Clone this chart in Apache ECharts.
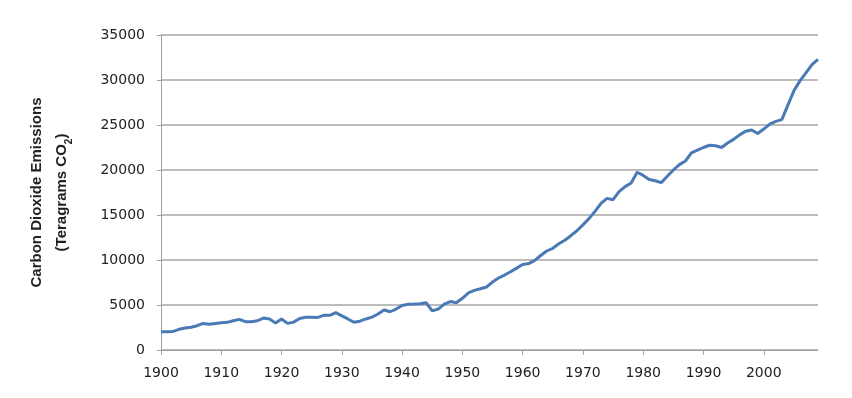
<!DOCTYPE html>
<html>
<head>
<meta charset="utf-8">
<script src="https://cdn.jsdelivr.net/npm/echarts@6/dist/echarts.min.js"></script>
<style>
  html, body { margin: 0; padding: 0; background: #fff; }
  #chart { width: 852px; height: 398px; }
</style>
</head>
<body>
<div id="chart"></div>
<script>
// years 1900..2009, one value per year (Tg CO2)
var years = [];
for (var y = 1900; y <= 2009; y++) years.push(y);

var emissions = [
  2040, 2040, 2060, 2300, 2450, 2520, 2700, 2950, 2850, 2950,
  3040, 3070, 3250, 3400, 3150, 3150, 3250, 3550, 3450, 3000,
  3450, 2960, 3100, 3500, 3630, 3630, 3620, 3850, 3850, 4150,
  3800, 3450, 3080, 3200, 3450, 3650, 4000, 4450, 4250, 4550,
  4950, 5080, 5100, 5150, 5250, 4350, 4550, 5100, 5380, 5260,
  5740, 6350, 6620, 6800, 7000, 7550, 8000, 8330, 8700, 9100,
  9500, 9600, 9950, 10500, 11000, 11300, 11800, 12200, 12700, 13250,
  13900, 14600, 15400, 16300, 16850, 16700, 17600, 18150, 18550, 19750,
  19400, 18950, 18800, 18600, 19300, 20000, 20600, 21000, 21900, 22200,
  22500, 22750, 22700, 22500, 23000, 23400, 23900, 24300, 24450, 24050,
  24550, 25100, 25400, 25600, 27200, 28800, 29900, 30800, 31700, 32300
];

var xTicks = [1900, 1910, 1920, 1930, 1940, 1950, 1960, 1970, 1980, 1990, 2000];
var yTicks = [0, 5000, 10000, 15000, 20000, 25000, 30000, 35000];

var chart = echarts.init(document.getElementById('chart'));

chart.setOption({
  animation: false,
  grid: { left: 161, right: 34, top: 35, bottom: 48, containLabel: false },
  xAxis: {
    type: 'value',
    min: 1900,
    max: 2009,
    interval: 10,
    axisLine: { show: true, lineStyle: { color: '#a0a0a0', width: 1 } },
    axisTick: { show: true, length: 5, lineStyle: { color: '#a0a0a0' }, customValues: xTicks },
    axisLabel: {
      customValues: xTicks,
      formatter: function (v) { return String(v); },
      color: '#222', fontFamily: 'DejaVu Sans', fontSize: 14, margin: 16
    },
    splitLine: { show: false }
  },
  yAxis: {
    type: 'value',
    min: yTicks[0],
    max: yTicks[yTicks.length - 1],
    interval: 5000,
    axisLine: { show: true, lineStyle: { color: '#a0a0a0', width: 1 } },
    axisTick: { show: true, length: 4, lineStyle: { color: '#a0a0a0' } },
    axisLabel: {
      formatter: function (v) { return String(v); },
      color: '#222', fontFamily: 'DejaVu Sans', fontSize: 14, margin: 16
    },
    splitLine: { show: true, lineStyle: { color: '#a6a6a6', width: 1.5 } },
    name: '{a|Carbon Dioxide Emissions}\n{a|(Teragrams CO}{s|2}{a|)}',
    nameLocation: 'middle',
    nameGap: 87,
    nameTextStyle: {
      align: 'center',
      rich: {
        a: { fontFamily: 'Liberation Sans', fontWeight: 'bold', fontSize: 15, color: '#222', lineHeight: 25, align: 'center' },
        s: { fontFamily: 'Liberation Sans', fontWeight: 'bold', fontSize: 10, color: '#222', lineHeight: 25, align: 'center', verticalAlign: 'bottom', padding: [6, 0, 0, 0] }
      }
    }
  },
  series: [{
    type: 'line',
    data: years.map(function (yr, i) { return [yr, emissions[i]]; }),
    showSymbol: false,
    lineStyle: { color: '#4a7ab5', width: 3 },
    itemStyle: { color: '#4a7ab5' }
  }]
});
</script>
</body>
</html>
